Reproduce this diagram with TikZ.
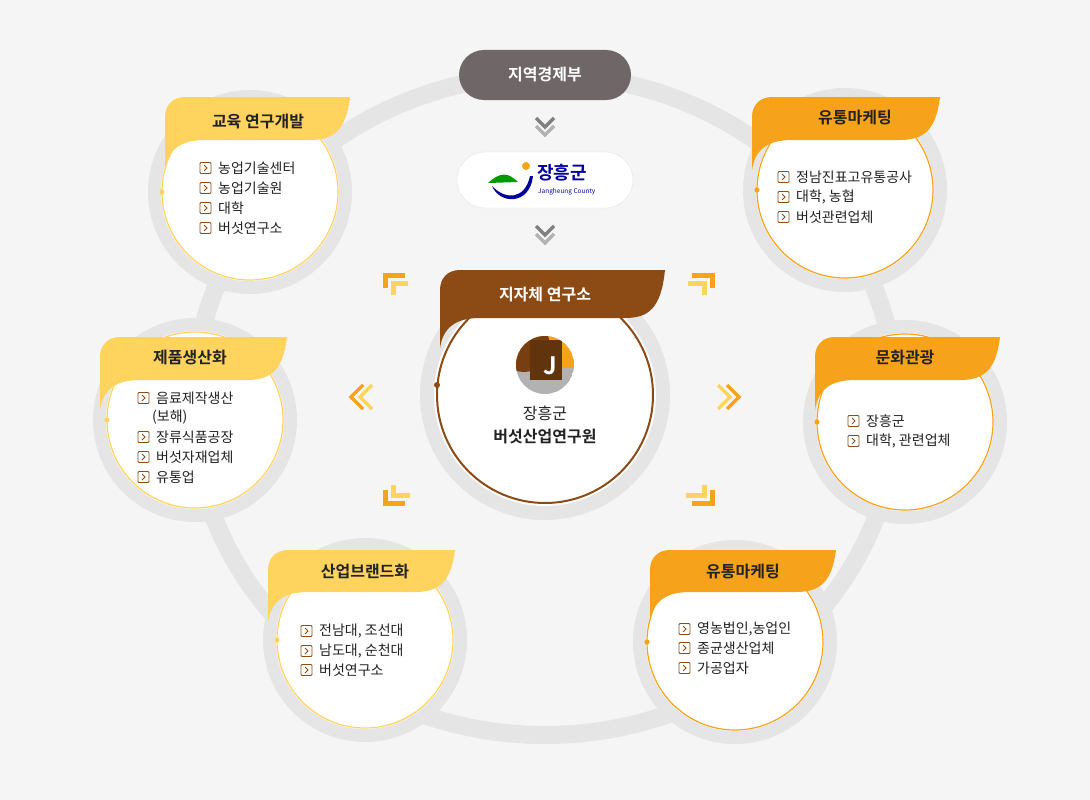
\documentclass[tikz,border=0pt]{standalone}
\usepackage{fontspec}
\setmainfont{Noto Sans CJK KR}
\newfontfamily\krb{Noto Sans CJK KR Bold}
\definecolor{bg}{HTML}{F5F5F5}
\definecolor{ringg}{HTML}{E5E5E6}
\definecolor{yel}{HTML}{FFD45E}
\definecolor{ora}{HTML}{F7A21B}
\definecolor{brn}{HTML}{8C4A14}
\definecolor{dgray}{HTML}{6E6667}
\definecolor{txt}{HTML}{222222}
\tikzset{
  itemtxt/.style={anchor=west,font=\fontsize{14}{15}\selectfont,text=txt,inner sep=0},
  ttl/.style={font=\krb\fontsize{16}{17}\selectfont,inner sep=0},
  chev/.style={line width=3.5pt,line cap=butt,line join=miter},
}
\newcommand\tagshape[5]{% x0 y0 x1 y1 color
  \fill[#5] (#1,#4+30) -- (#1,#2+20) .. controls (#1,#2+8) and (#1+8,#2) .. (#1+20,#2) -- (#3,#2)
   .. controls (#3-4,#4-10) and (#3-16,#4) .. (#3-40,#4) -- (#1+40,#4) .. controls (#1+15,#4) and (#1+3,#4+10) .. (#1,#4+30) -- cycle;}
\newcommand\bubble[4]{% name cx cy color
  \fill[ringg] (#2,#3) circle[radius=102];
  \fill[white] (#2,#3) circle[radius=89];
  \draw[#4,line width=1.2pt] (#2,#3) circle[radius=88];
  \fill[#4] (#2-88,#3) circle[radius=2.5];
}
\newcommand\itm[4]{% name x y text
  \draw[brn,line width=0.8pt,rounded corners=1pt] (#2,#3-5.5) rectangle (#2+11,#3+5.5);
  \draw[brn,line width=0.9pt] (#2+4,#3-3) -- (#2+7,#3) -- (#2+4,#3+3);
  \node[itemtxt] (#1) at (#2+18,#3) {#4};}
\newcommand\dchev[3]{% x y colorshade, pointing down
  \draw[chev,#3!60] (#1-9,#2-9) -- (#1,#2) -- (#1+9,#2-9);
  \draw[chev,#3] (#1-9,#2-17) -- (#1,#2-8) -- (#1+9,#2-17);}
\begin{document}
\begin{tikzpicture}[x=1pt,y=-1pt]
\fill[bg] (0,0) rectangle (1090,800);
\useasboundingbox (0,0) rectangle (1090,800);
% big ring
\draw[ringg,line width=18pt] (545,405) ellipse[x radius=352,y radius=330];

% top
\node[fill=dgray,rounded corners=25pt,minimum width=172pt,minimum height=50pt,text=white,ttl] (eco) at (545,75) {지역경제부};
\dchev{545}{135}{gray}
\node[draw=ringg,fill=white,rounded corners=28pt,minimum width=176pt,minimum height=56pt] (jh) at (545,180) {};
\fill[ora] (526,166) circle[radius=4];
\fill[green!60!black] (488,183) .. controls (500,172) and (508,172) .. (518,182) -- cycle;
\fill[blue!60!black] (492,186) .. controls (505,200) and (525,200) .. (530,176) -- (533,176) .. controls (530,205) and (500,205) .. (492,186);
\node[font=\krb\fontsize{18}{18}\selectfont,text=blue!60!black,anchor=west,inner sep=0] (jht) at (537,173) {장흥군};
\node[font=\fontsize{6.5}{7}\selectfont,text=blue!60!black,anchor=west,inner sep=0] (jhe) at (538,192) {Jangheung County};
\dchev{545}{243}{gray}

% center
\fill[ringg] (545,395) circle[radius=125];
\fill[white] (545,395) circle[radius=111];
\draw[brn,line width=2pt] (545,395) circle[radius=108];
\fill[brn] (437,385) circle[radius=3];
\tagshape{440}{270}{665}{318}{brn}
\node[ttl,text=white] (ct) at (545,295) {지자체 연구소};
\begin{scope}
\clip (545,365) circle[radius=29];
\fill[gray!60] (545,365) circle[radius=29];
\fill[ora] (510,330) rectangle (580,368);
\fill[brn!85!black] (524,346) circle[radius=26];
\fill[brn!70!black] (530,340) rectangle (562,380);
\end{scope}
\node[font=\krb\fontsize{24}{24}\selectfont,text=white,inner sep=0] (jlogo) at (550,366) {J};
\node[font=\fontsize{16}{17}\selectfont,text=txt,inner sep=0] (c1) at (545,413) {장흥군};
\node[font=\krb\fontsize{16}{17}\selectfont,text=txt,inner sep=0] (c2) at (545,437) {버섯산업연구원};

% corner brackets
\draw[ora,line width=5pt] (385,288) -- (385,275) -- (405,275);
\draw[yel,line width=5pt] (393,295) -- (393,283) -- (408,283);
\draw[ora,line width=5pt] (712,288) -- (712,275) -- (692,275);
\draw[yel,line width=5pt] (704,295) -- (704,283) -- (688,283);
\draw[ora,line width=5pt] (385,490) -- (385,503) -- (405,503);
\draw[yel,line width=5pt] (393,485) -- (393,495) -- (410,495);
\draw[ora,line width=5pt] (712,490) -- (712,503) -- (692,503);
\draw[yel,line width=5pt] (704,485) -- (704,495) -- (686,495);
% side chevrons
\draw[chev,yel] (372,385) -- (360,397) -- (372,409);
\draw[chev,ora] (363,385) -- (351,397) -- (363,409);
\draw[chev,yel] (718,385) -- (730,397) -- (718,409);
\draw[chev,ora] (727,385) -- (739,397) -- (727,409);

% bubbles
\bubble{b1}{250}{192}{yel}
\tagshape{165}{97}{350}{140}{yel}
\node[ttl,text=txt] (t1) at (258,122) {교육 연구개발};
\itm{i11}{200}{168}{농업기술센터}
\itm{i12}{200}{188}{농업기술원}
\itm{i13}{200}{208}{대학}
\itm{i14}{200}{228}{버섯연구소}

\bubble{b2}{845}{190}{ora}
\tagshape{752}{97}{940}{140}{ora}
\node[ttl,text=txt] (t2) at (855,118) {유통마케팅};
\itm{i21}{778}{177}{정남진표고유통공사}
\itm{i22}{778}{197}{대학, 농협}
\itm{i23}{778}{217}{버섯관련업체}

\bubble{b3}{195}{420}{yel}
\tagshape{100}{337}{287}{380}{yel}
\node[ttl,text=txt] (t3) at (190,358) {제품생산화};
\itm{i31}{138}{398}{음료제작생산}
\node[itemtxt] (i31b) at (152,417) {(보해)};
\itm{i32}{138}{437}{장류식품공장}
\itm{i33}{138}{457}{버섯자재업체}
\itm{i34}{138}{477}{유통업}

\bubble{b4}{905}{422}{ora}
\tagshape{815}{337}{1000}{380}{ora}
\node[ttl,text=txt] (t4) at (905,358) {문화관광};
\itm{i41}{848}{421}{장흥군}
\itm{i42}{848}{441}{대학, 관련업체}

\bubble{b5}{365}{640}{yel}
\tagshape{268}{550}{455}{592}{yel}
\node[ttl,text=txt] (t5) at (365,572) {산업브랜드화};
\itm{i51}{301}{631}{전남대, 조선대}
\itm{i52}{301}{651}{남도대, 순천대}
\itm{i53}{301}{670}{버섯연구소}

\bubble{b6}{735}{642}{ora}
\tagshape{650}{550}{836}{592}{ora}
\node[ttl,text=txt] (t6) at (743,572) {유통마케팅};
\itm{i61}{679}{629}{영농법인,농업인}
\itm{i62}{679}{648}{종균생산업체}
\itm{i63}{679}{668}{가공업자}
\end{tikzpicture}
\end{document}
